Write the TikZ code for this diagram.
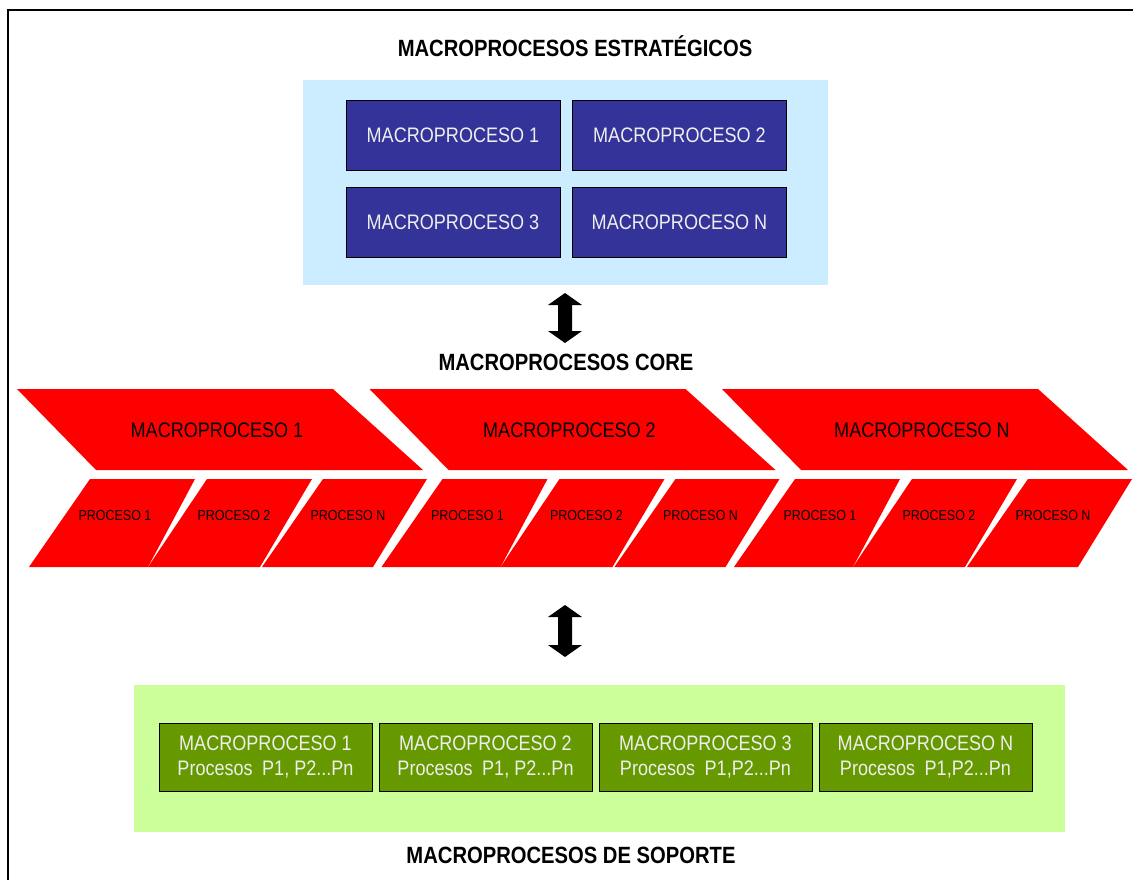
\documentclass[tikz,border=0pt]{standalone}
\usepackage{fontspec}
\setmainfont{Liberation Sans}[FakeStretch=0.86]
\definecolor{stratbg}{HTML}{CCECFF}
\definecolor{stratfill}{HTML}{333399}
\definecolor{corered}{HTML}{FF0000}
\definecolor{supbg}{HTML}{CCFF99}
\definecolor{supfill}{HTML}{669900}
\definecolor{lighttext}{HTML}{EEEEEE}
\begin{document}
\begin{tikzpicture}[x=1pt,y=-1pt,
  boxtext/.style={font=\fontsize{21}{25}\selectfont},
  proctext/.style={font=\fontsize{14.5}{16}\selectfont},
  heading/.style={font=\fontsize{23.5}{26}\selectfont\bfseries},
  stratbox/.style={draw=black, line width=0.8pt, fill=stratfill, text=lighttext,
    minimum width=214pt, minimum height=70pt, inner sep=0pt, boxtext},
  supbox/.style={draw=black, line width=0.8pt, fill=supfill, text=lighttext,
    minimum width=213pt, minimum height=68pt, inner sep=0pt, align=center, boxtext},
  panel/.style={inner sep=0pt, draw=none},
  blockarrow/.style={fill=black}
]
\useasboundingbox (0,0) rectangle (1133,880);
\clip (0,0) rectangle (1133,880);

% outer frame (runs off the page on the right and bottom)
\draw[line width=1.5pt] (1150,10) -- (8,10) -- (8,900);

% strategic macroprocesses
\node[heading] (tstrat) at (575,46) {MACROPROCESOS ESTRATÉGICOS};
\node[panel, fill=stratbg, minimum width=525pt, minimum height=205pt] (stratpanel) at (565.5,182.5) {};
\node[stratbox] (s1) at (453,135) {MACROPROCESO 1};
\node[stratbox] (s2) at (679.5,135) {MACROPROCESO 2};
\node[stratbox] (s3) at (453,222.5) {MACROPROCESO 3};
\node[stratbox] (s4) at (679.5,222.5) {MACROPROCESO N};

% core macroprocesses
\node[heading] (tcore) at (566,362) {MACROPROCESOS CORE};

% double block arrow between strategic panel and core row
\fill[blockarrow] (565,293) -- (582,305) -- (572,305) -- (572,331) -- (582,331)
  -- (565,343) -- (548,331) -- (558,331) -- (558,305) -- (548,305) -- cycle;

\foreach \g/\name in {0/1,1/2,2/N} {
  \begin{scope}[xshift=352.5*\g]
    % upper half of the chevron
    \fill[corered] (17,389) -- (333,389) -- (423,470) -- (96,470) -- cycle;
    \node[boxtext] (core\name) at (217,430) {MACROPROCESO \name};
    % lower half, split into processes
    \fill[corered] (29,567) -- (90,479) -- (195,479) -- (148,567) -- cycle;
    \fill[corered] (148,567) -- (207,479) -- (312,479) -- (260,567) -- cycle;
    \fill[corered] (262,567) -- (323,479) -- (427,479) -- (373,567) -- cycle;
    \node[proctext] (p\name a) at (115,516) {PROCESO 1};
    \node[proctext] (p\name b) at (234,516) {PROCESO 2};
    \node[proctext] (p\name c) at (348,516) {PROCESO N};
  \end{scope}
}

% double block arrow between core row and support panel
\fill[blockarrow] (565,605) -- (582,617) -- (572,617) -- (572,645) -- (582,645)
  -- (565,657) -- (548,645) -- (558,645) -- (558,617) -- (548,617) -- cycle;

% support macroprocesses
\node[panel, fill=supbg, minimum width=931pt, minimum height=147pt] (suppanel) at (599.5,758.5) {};
\node[supbox] (g1) at (265.5,757) {MACROPROCESO 1\\Procesos\hspace{0.45em}P1, P2...Pn};
\node[supbox] (g2) at (485.5,757) {MACROPROCESO 2\\Procesos\hspace{0.45em}P1, P2...Pn};
\node[supbox] (g3) at (705.5,757) {MACROPROCESO 3\\Procesos\hspace{0.45em}P1,P2...Pn};
\node[supbox] (g4) at (925.5,757) {MACROPROCESO N\\Procesos\hspace{0.45em}P1,P2...Pn};
\node[heading] (tsup) at (571,855) {MACROPROCESOS DE SOPORTE};
\end{tikzpicture}
\end{document}
